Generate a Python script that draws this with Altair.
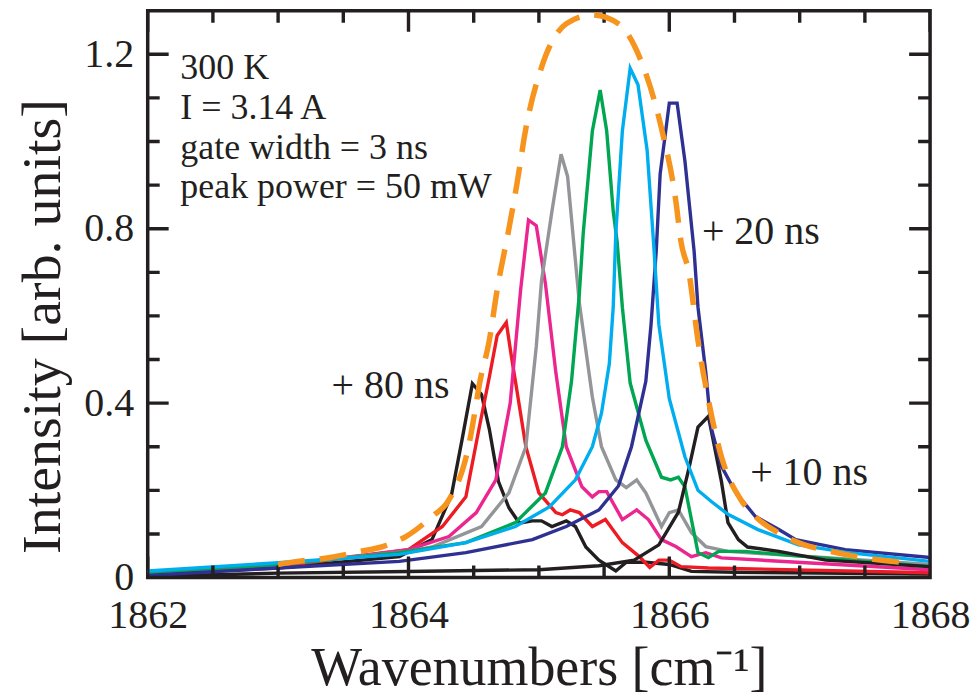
import altair as alt
import pandas as pd

FONT = "Liberation Serif"
INK = "#231F20"
W, H = 784, 568

# ---- data (wavenumber cm^-1, intensity arb. units) ----
d10_x = [1862.0, 1863.0, 1864.0, 1865.0, 1865.46, 1865.73, 1865.92, 1866.07, 1866.15, 1866.22, 1866.3, 1866.4, 1866.45, 1866.53, 1866.6, 1866.84, 1867.2, 1868.0]
d10_y = [0.003, 0.01, 0.014, 0.018, 0.027, 0.04, 0.075, 0.15, 0.25, 0.345, 0.37, 0.22, 0.126, 0.087, 0.07, 0.06, 0.04, 0.025]

d20_x = [1862.0, 1863.0, 1863.93, 1864.44, 1864.95, 1865.21, 1865.46, 1865.61, 1865.71, 1865.82, 1865.86, 1865.9, 1865.93, 1866.0, 1866.06, 1866.12, 1866.19, 1866.22, 1866.28, 1866.32, 1866.4, 1866.51, 1866.66, 1866.84, 1866.97, 1867.35, 1868.0]
d20_y = [0.005, 0.022, 0.037, 0.057, 0.087, 0.117, 0.155, 0.21, 0.30, 0.45, 0.58, 0.75, 0.926, 1.088, 1.088, 0.955, 0.75, 0.62, 0.47, 0.345, 0.255, 0.195, 0.14, 0.11, 0.087, 0.064, 0.046]

d30_x = [1862.0, 1863.0, 1863.93, 1864.44, 1864.82, 1865.08, 1865.28, 1865.41, 1865.48, 1865.54, 1865.57, 1865.59, 1865.64, 1865.7, 1865.76, 1865.83, 1865.88, 1865.92, 1866.0, 1866.12, 1866.22, 1866.32, 1866.45, 1866.68, 1866.99, 1867.37, 1868.0]
d30_y = [0.015, 0.034, 0.053, 0.08, 0.117, 0.162, 0.224, 0.30, 0.377, 0.49, 0.62, 0.79, 1.024, 1.168, 1.13, 0.98, 0.765, 0.58, 0.41, 0.277, 0.2, 0.175, 0.145, 0.11, 0.075, 0.057, 0.037]

d40_x = [1862.0, 1863.0, 1863.93, 1864.44, 1864.82, 1865.05, 1865.18, 1865.25, 1865.31, 1865.34, 1865.41, 1865.47, 1865.52, 1865.57, 1865.6, 1865.64, 1865.7, 1865.82, 1865.94, 1866.01, 1866.07, 1866.12, 1866.22, 1866.3, 1866.38, 1866.58, 1866.84, 1868.0]
d40_y = [0.012, 0.03, 0.057, 0.08, 0.126, 0.194, 0.30, 0.45, 0.65, 0.79, 1.024, 1.118, 1.024, 0.84, 0.77, 0.62, 0.446, 0.315, 0.23, 0.224, 0.23, 0.208, 0.057, 0.046, 0.06, 0.06, 0.053, 0.025]

d50_x = [1862.0, 1863.0, 1864.0, 1864.18, 1864.56, 1864.77, 1864.9, 1864.98, 1865.02, 1865.1, 1865.17, 1865.22, 1865.31, 1865.41, 1865.48, 1865.59, 1865.67, 1865.75, 1865.82, 1865.94, 1866.0, 1866.07, 1866.17, 1866.28, 1866.45, 1868.0]
d50_y = [0.012, 0.03, 0.06, 0.07, 0.117, 0.194, 0.30, 0.53, 0.68, 0.84, 0.971, 0.92, 0.63, 0.414, 0.30, 0.224, 0.206, 0.224, 0.194, 0.117, 0.149, 0.155, 0.103, 0.071, 0.06, 0.03]

d60_x = [1862.0, 1863.0, 1864.0, 1864.31, 1864.52, 1864.67, 1864.78, 1864.86, 1864.92, 1864.98, 1865.05, 1865.13, 1865.21, 1865.33, 1865.41, 1865.46, 1865.52, 1865.64, 1865.75, 1865.84, 1865.94, 1866.05, 1866.17, 1866.28, 1866.4, 1868.0]
d60_y = [0.012, 0.028, 0.064, 0.094, 0.149, 0.224, 0.40, 0.66, 0.82, 0.807, 0.674, 0.47, 0.30, 0.208, 0.185, 0.197, 0.197, 0.133, 0.155, 0.133, 0.087, 0.071, 0.048, 0.057, 0.045, 0.018]

d70_x = [1862.0, 1863.0, 1864.0, 1864.26, 1864.44, 1864.54, 1864.62, 1864.68, 1864.75, 1864.79, 1864.82, 1864.9, 1865.0, 1865.13, 1865.18, 1865.24, 1865.31, 1865.41, 1865.51, 1865.64, 1865.77, 1865.85, 1865.92, 1866.0, 1866.09, 1866.3, 1868.0]
d70_y = [0.01, 0.025, 0.064, 0.117, 0.185, 0.34, 0.46, 0.555, 0.585, 0.505, 0.45, 0.30, 0.194, 0.149, 0.144, 0.155, 0.149, 0.117, 0.133, 0.08, 0.048, 0.023, 0.04, 0.04, 0.025, 0.022, 0.011]

d80_x = [1862.0, 1863.0, 1863.93, 1864.18, 1864.33, 1864.41, 1864.49, 1864.56, 1864.62, 1864.69, 1864.77, 1864.85, 1864.95, 1865.02, 1865.1, 1865.21, 1865.28, 1865.36, 1865.46, 1865.59, 1865.67, 1865.82, 1866.0, 1866.17, 1866.5, 1868.0]
d80_y = [0.008, 0.022, 0.048, 0.087, 0.19, 0.315, 0.445, 0.42, 0.34, 0.22, 0.16, 0.125, 0.13, 0.13, 0.117, 0.13, 0.117, 0.07, 0.04, 0.015, 0.035, 0.035, 0.03, 0.014, 0.012, 0.008]

env_x = [1863.0, 1863.15, 1863.4, 1863.58, 1863.84, 1863.98, 1864.18, 1864.31, 1864.46, 1864.52, 1864.54, 1864.62, 1864.68, 1864.77, 1864.83, 1864.9, 1865.02, 1865.21, 1865.41, 1865.61, 1865.79, 1865.94, 1866.05, 1866.09, 1866.15, 1866.22, 1866.3, 1866.4, 1866.55, 1866.66, 1866.89, 1867.35, 1867.81]
env_y = [0.03, 0.037, 0.046, 0.057, 0.075, 0.094, 0.14, 0.178, 0.30, 0.40, 0.437, 0.544, 0.66, 0.80, 0.90, 1.03, 1.17, 1.27, 1.29, 1.27, 1.18, 1.03, 0.864, 0.77, 0.70, 0.544, 0.407, 0.277, 0.178, 0.14, 0.094, 0.053, 0.034]

series_names = ["80 ns", "70 ns", "60 ns", "50 ns", "40 ns", "10 ns", "20 ns", "30 ns"]
series_colors = [INK, "#ED1C24", "#EC268F", "#939598", "#00A651", INK, "#2E3192", "#00AEEF"]
series_data = [(d80_x, d80_y), (d70_x, d70_y), (d60_x, d60_y), (d50_x, d50_y),
               (d40_x, d40_y), (d10_x, d10_y), (d20_x, d20_y), (d30_x, d30_y)]

info_text = ["300 K", "I = 3.14 A", "gate width = 3 ns", "peak power = 50 mW"]
info_x = [1862.25, 1862.25, 1862.25, 1862.25]
info_y = [1.143, 1.051, 0.960, 0.871]

delay_text = ["+ 20 ns", "+ 80 ns", "+ 10 ns"]
delay_x = [1866.25, 1863.41, 1866.62]
delay_y = [0.766, 0.411, 0.213]

x_major = [1862, 1864, 1866, 1868]
x_minor = [1862.5, 1863, 1863.5, 1864.5, 1865, 1865.5, 1866.5, 1867, 1867.5]
y_major = [0, 0.4, 0.8, 1.2]
y_minor = [0.1, 0.2, 0.3, 0.5, 0.6, 0.7, 0.9, 1.0, 1.1]

X0, X1 = 1862, 1868
Y0, Y1 = 0, 1.3

# ---- tables: curves plus the inward tick segments, drawn by the same line mark ----
rows = []
for k, (name, (xs, ys)) in enumerate(zip(series_names, series_data)):
    for xv, yv in zip(xs, ys):
        rows.append({"series": name, "k": f"c{k}", "x": xv, "y": yv})

PX = (X1 - X0) / W
PY = (Y1 - Y0) / H
n = 0


def seg(a, b, c, d):
    global n
    rows.append({"series": "tick", "k": f"t{n}", "x": a, "y": c})
    rows.append({"series": "tick", "k": f"t{n}", "x": b, "y": d})
    n += 1


for v, L in [(v, 21) for v in x_major] + [(v, 12) for v in x_minor]:
    seg(v, v + 1e-6, Y0, Y0 + L * PY)
    seg(v, v + 1e-6, Y1, Y1 - L * PY)
for v, L in [(v, 21) for v in y_major] + [(v, 12) for v in y_minor]:
    seg(X0, X0 + L * PX, v, v)
    seg(X1 - L * PX, X1, v, v)

df = pd.DataFrame(rows)
df_env = pd.DataFrame({"x": env_x, "y": env_y})
df_info = pd.DataFrame({"t": info_text, "x": info_x, "y": info_y})
df_delay = pd.DataFrame({"t": delay_text, "x": delay_x, "y": delay_y})

xscale = alt.Scale(domain=[X0, X1], nice=False, zero=False)
yscale = alt.Scale(domain=[Y0, Y1], nice=False, zero=False)

xb = alt.Axis(values=x_major, format="d", ticks=False, domain=False, grid=False,
              labelFont=FONT, labelFontSize=40, labelColor=INK, labelPadding=18,
              labelFlush=False, labelOverlap=False,
              title="Wavenumbers [cm⁻¹]", titleFont=FONT, titleFontSize=54,
              titleFontWeight="normal", titleColor=INK, titlePadding=6)
yl = alt.Axis(values=y_major, ticks=False, domain=False, grid=False,
              labelExpr="datum.value == 0 ? '0' : format(datum.value, '.1f')",
              labelFont=FONT, labelFontSize=40, labelColor=INK, labelPadding=14,
              labelFlush=False, labelOverlap=False,
              title="Intensity [arb. units]", titleFont=FONT, titleFontSize=56,
              titleFontWeight="normal", titleColor=INK, titlePadding=12, titleY=316)

lines = alt.Chart(df).mark_line(strokeWidth=3.4, clip=True).encode(
    x=alt.X("x:Q", scale=xscale, axis=xb),
    y=alt.Y("y:Q", scale=yscale, axis=yl),
    color=alt.Color("series:N",
                    scale=alt.Scale(domain=series_names + ["tick"], range=series_colors + [INK]),
                    legend=None),
    detail="k:N",
)

env = alt.Chart(df_env).mark_line(color="#F7941D", strokeWidth=5.5, strokeDash=[27, 15],
                                  interpolate="monotone", clip=True).encode(
    x=alt.X("x:Q", scale=xscale),
    y=alt.Y("y:Q", scale=yscale),
)

info = alt.Chart(df_info).mark_text(font=FONT, fontSize=36, color=INK, align="left",
                                    baseline="alphabetic").encode(
    x=alt.X("x:Q", scale=xscale),
    y=alt.Y("y:Q", scale=yscale),
    text="t:N",
)
delays = alt.Chart(df_delay).mark_text(font=FONT, fontSize=40, color=INK, align="left",
                                       baseline="alphabetic").encode(
    x=alt.X("x:Q", scale=xscale),
    y=alt.Y("y:Q", scale=yscale),
    text="t:N",
)

chart = alt.layer(lines, env, info, delays).properties(
    width=W, height=H,
    autosize=alt.AutoSizeParams(type="none"),
    padding={"left": 140, "top": 2, "right": 40, "bottom": 120},
    background="white",
).configure_view(stroke=INK, strokeWidth=3.5)

chart.save("out.html", embed_options={"renderer": "svg", "actions": False})
